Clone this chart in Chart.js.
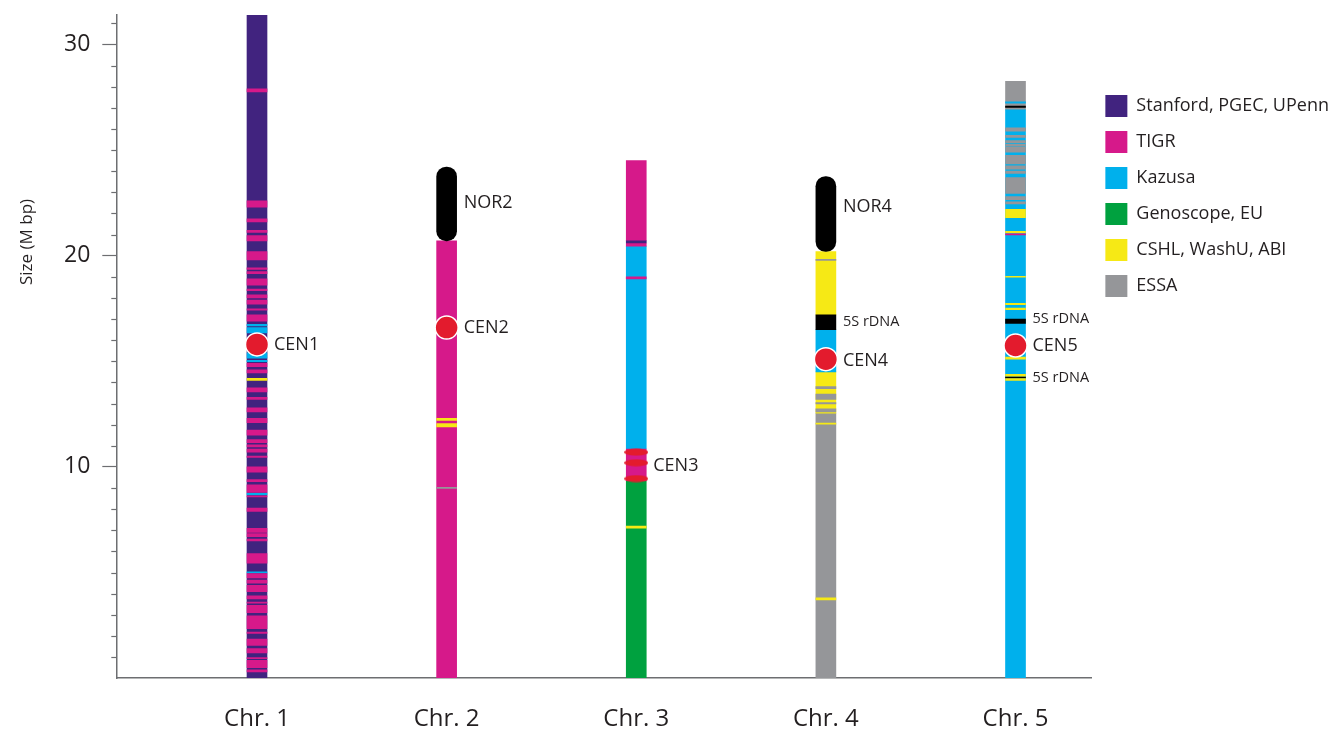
<!DOCTYPE html>
<html>
<head>
<meta charset="utf-8">
<script src="https://cdn.jsdelivr.net/npm/chart.js@4.4.1/dist/chart.umd.min.js"></script>
<style>
  html, body { margin: 0; padding: 0; background: #fff; }
  #wrap { width: 1339px; height: 729px; }
</style>
</head>
<body>
<div id="wrap"><canvas id="chromo-chart"></canvas></div>
<script>
const chromosomes = ['Chr. 1', 'Chr. 2', 'Chr. 3', 'Chr. 4', 'Chr. 5'];
const sourceNames = ['Stanford, PGEC, UPenn', 'TIGR', 'Kazusa', 'Genoscope, EU', 'CSHL, WashU, ABI', 'ESSA'];
const sourceColors = ['#41237f', '#d6198a', '#00b0ec', '#00a13f', '#f6e915', '#959699', '#000000', '#000000'];
// source index 6 = 5S rDNA / black band, 7 = NOR

// [start, end, source] in Mbp
const chr1Blocks = [[0, 31.4, 0]];
const chr1Bands = [
  [27.75, 27.9, 1], [22.3, 22.6, 1], [21.6, 21.75, 1], [21.1, 21.2, 1], [20.7, 20.95, 1],
  [19.8, 20.2, 1], [19.35, 19.42, 1], [19.15, 19.25, 1], [18.6, 18.9, 1], [18.35, 18.42, 1],
  [18.0, 18.15, 1], [17.7, 17.9, 1], [17.42, 17.48, 1], [16.9, 17.2, 1], [16.68, 16.75, 2],
  [16.35, 16.6, 2], [15.15, 15.4, 2], [14.98, 15.05, 2], [14.75, 14.9, 1], [14.45, 14.6, 1],
  [14.1, 14.2, 4], [13.55, 13.75, 1], [13.2, 13.3, 1], [12.6, 12.8, 1], [12.1, 12.3, 1],
  [11.5, 11.75, 1], [11.15, 11.3, 1], [10.95, 11.05, 1], [10.7, 10.85, 1], [10.45, 10.52, 1],
  [9.75, 10.0, 1], [9.3, 9.4, 1], [8.8, 9.15, 1], [8.68, 8.76, 2], [8.58, 8.63, 1],
  [7.9, 8.05, 1], [6.9, 7.1, 1], [6.7, 6.85, 1], [6.5, 6.58, 1], [5.45, 5.9, 1],
  [4.98, 5.03, 2], [4.75, 4.95, 1], [4.5, 4.65, 1], [4.1, 4.4, 1], [3.75, 3.9, 1],
  [3.55, 3.6, 1], [3.1, 3.45, 1], [2.35, 2.95, 1], [2.12, 2.18, 1], [1.55, 1.85, 1],
  [1.2, 1.4, 1], [0.93, 0.98, 1], [0.5, 0.85, 1], [0.3, 0.4, 1]
];
const chr2Blocks = [[0, 20.7, 1], [20.7, 24.2, 7]];
const chr2Bands = [[12.2, 12.3, 4], [11.9, 12.05, 4], [8.98, 9.03, 5]];
const chr3Blocks = [[0, 9.35, 3], [9.35, 10.85, 1], [10.85, 20.45, 2], [20.7, 24.5, 1]];
const chr3Bands = [[20.45, 20.6, 1], [20.6, 20.7, 0], [18.9, 19.0, 1], [7.1, 7.2, 4]];
const chr4Blocks = [[0, 12.55, 5], [12.55, 14.5, 4], [14.5, 16.5, 2], [16.5, 17.2, 6], [17.2, 20.2, 4], [20.2, 23.75, 7]];
const chr4Bands = [
  [19.78, 19.83, 5], [13.7, 13.8, 5], [13.2, 13.45, 5], [12.98, 13.05, 5], [12.6, 12.75, 5],
  [12.03, 12.08, 4], [3.7, 3.8, 4]
];
const chr5Blocks = [[0, 26.9, 2], [26.9, 28.25, 5]];
const chr5Bands = [
  [27.22, 27.28, 2], [27.02, 27.08, 6], [25.9, 26.05, 5], [25.6, 25.7, 5], [25.35, 25.45, 5],
  [25.2, 25.28, 5], [24.9, 25.15, 5], [24.35, 24.75, 5], [24.1, 24.25, 5], [23.9, 24.0, 5],
  [22.95, 23.7, 5], [22.65, 22.8, 5], [22.45, 22.55, 5], [21.8, 22.2, 4], [21.08, 21.15, 4],
  [20.98, 21.03, 1], [18.98, 19.02, 4], [17.68, 17.75, 4], [17.45, 17.52, 4], [16.8, 17.0, 6],
  [15.1, 15.2, 4], [14.3, 14.38, 4], [14.2, 14.27, 6], [14.1, 14.18, 4]
];

// centromere positions (chromosome number, Mbp)
const centromeres = [[1, 15.8], [2, 16.6], [4, 15.1], [5, 15.75]];
const cen3Marks = [10.7, 10.2, 9.45];

const markerLabels = [
  [1, 15.8, 'CEN1'], [2, 22.5, 'NOR2'], [2, 16.6, 'CEN2'], [3, 10.05, 'CEN3'],
  [4, 22.3, 'NOR4'], [4, 16.85, '5S rDNA'], [4, 15.0, 'CEN4'],
  [5, 17.0, '5S rDNA'], [5, 15.75, 'CEN5'], [5, 14.2, '5S rDNA']
];

const chrBlocks = [chr1Blocks, chr2Blocks, chr3Blocks, chr4Blocks, chr5Blocks];
const chrBands = [chr1Bands, chr2Bands, chr3Bands, chr4Bands, chr5Bands];

function collect(list, src) {
  const out = [];
  list.forEach((segs, i) => segs.forEach(s => {
    if (s[2] === src) out.push({ x: i + 1, y: [s[0], s[1]] });
  }));
  return out;
}

const datasets = [];
sourceNames.forEach((name, src) => {
  datasets.push({ label: name, data: collect(chrBlocks, src), backgroundColor: sourceColors[src], order: 3 });
});
for (let src = 0; src <= 6; src++) {
  datasets.push({ label: '', data: collect(chrBands, src).concat(src === 6 ? collect(chrBlocks, 6) : []),
    backgroundColor: sourceColors[src], order: 2 });
}
datasets.push({ label: '', data: collect(chrBlocks, 7), backgroundColor: '#000', borderRadius: 10,
  borderSkipped: false, order: 2 });

const ellipseMark = document.createElement('canvas');
ellipseMark.width = 24; ellipseMark.height = 8;
const ec = ellipseMark.getContext('2d');
ec.fillStyle = '#e31b2d';
ec.beginPath(); ec.ellipse(12, 4, 12, 3.6, 0, 0, Math.PI * 2); ec.fill();

datasets.push({
  type: 'line', label: '', showLine: false, order: 0,
  data: centromeres.map(c => ({ x: c[0], y: c[1] })),
  pointRadius: 11.5, pointBackgroundColor: '#e31b2d', pointBorderColor: '#fff', pointBorderWidth: 1.5
});
datasets.push({
  type: 'line', label: '', showLine: false, order: 0,
  data: cen3Marks.map(v => ({ x: 3, y: v })),
  pointStyle: ellipseMark
});

const extras = {
  id: 'extras',
  afterDraw(chart) {
    const { ctx } = chart;
    const y = chart.scales.y, x = chart.scales.x;
    ctx.save();
    // minor ticks
    ctx.strokeStyle = '#6d6e71';
    ctx.lineWidth = 1.2;
    for (let v = 1; v <= Math.floor(y.max); v++) {
      if (v % 10 === 0) continue;
      const py = Math.round(y.getPixelForValue(v)) + 0.5;
      ctx.beginPath(); ctx.moveTo(y.right - 5, py); ctx.lineTo(y.right, py); ctx.stroke();
    }
    // labels beside the chromosomes
    ctx.fillStyle = '#231f20';
    ctx.textBaseline = 'middle';
    markerLabels.forEach(l => {
      const small = l[2].startsWith('5S');
      ctx.font = (small ? '14.5px' : '18px') + ' "Open Sans"';
      ctx.fillText(l[2], x.getPixelForValue(l[0]) + 17, y.getPixelForValue(l[1]));
    });
    // axis title
    ctx.font = '17px "Open Sans"';
    ctx.textAlign = 'center';
    ctx.translate(27, y.getPixelForValue(20.65));
    ctx.rotate(-Math.PI / 2);
    ctx.fillText('Size (M bp)', 0, 0);
    ctx.restore();
  }
};

Chart.defaults.font.family = '"Open Sans", sans-serif';
Chart.defaults.color = '#231f20';

new Chart(document.getElementById('chromo-chart'), {
  type: 'bar',
  data: { datasets },
  options: {
    responsive: true,
    maintainAspectRatio: false,
    animation: false,
    events: [],
    layout: { padding: { left: 52, top: 4, right: 0, bottom: -32 } },
    datasets: { bar: { grouped: false, barThickness: 20 } },
    scales: {
      x: {
        type: 'linear', min: 0.258, max: 5.40, offset: false,
        afterBuildTicks: s => { s.ticks = chromosomes.map((c, i) => ({ value: i + 1 })); },
        ticks: { callback: v => chromosomes[v - 1] || '', font: { size: 24 }, padding: 27, maxRotation: 0 },
        grid: { display: false, drawTicks: false },
        border: { color: '#6d6e71', width: 1.5 }
      },
      y: {
        min: 0, max: 31.4,
        ticks: { stepSize: 1, autoSkip: false, font: { size: 23, lineHeight: 0.25 }, padding: 12,
          callback: v => (v % 10 === 0 && v > 0) ? v : '' },
        grid: { drawOnChartArea: false, tickLength: 14, tickWidth: 1.2,
          tickColor: c => (c.tick && c.tick.value % 10 === 0 && c.tick.value > 0) ? '#6d6e71' : 'rgba(0,0,0,0)' },
        border: { color: '#6d6e71', width: 1.5 }
      }
    },
    plugins: {
      tooltip: { enabled: false },
      legend: {
        position: 'right', align: 'start',
        title: { display: true, text: ' ', font: { size: 10 }, padding: { top: 65, bottom: 0 } },
        labels: { boxWidth: 22, boxHeight: 22, padding: 14, font: { size: 18 },
          filter: item => item.datasetIndex < 6 }
      }
    }
  },
  plugins: [extras]
});
</script>
</body>
</html>
